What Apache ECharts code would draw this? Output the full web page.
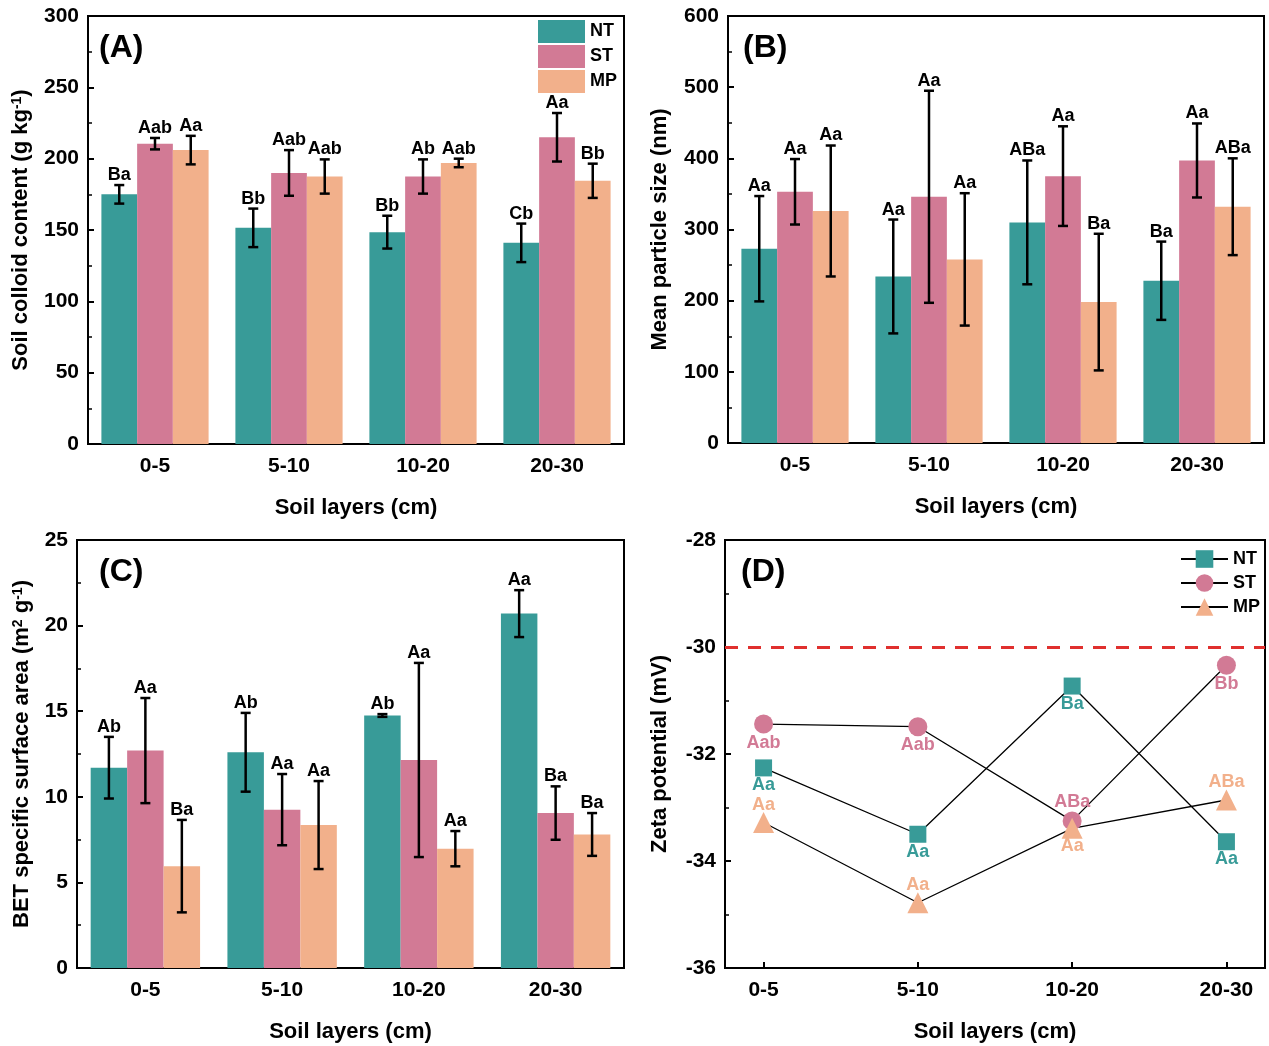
<!DOCTYPE html>
<html>
<head>
<meta charset="utf-8">
<script src="https://cdn.jsdelivr.net/npm/echarts@6/dist/echarts.min.js"></script>
<style>
  html, body { margin: 0; padding: 0; background: #fff; }
  #main { width: 1269px; height: 1046px; }
</style>
</head>
<body>
<div id="main"></div>
<script>
// categories
var layers = ['0-5', '5-10', '10-20', '20-30'];

// (A) soil colloid content, g/kg
var colloidNT = [175, 151.5, 148.5, 141];
var colloidNTsd = [6.5, 13.5, 11.5, 13.5];
var colloidST = [210.5, 190, 187.5, 215];
var colloidSTsd = [4, 16, 12, 17];
var colloidMP = [206, 187.5, 197, 184.5];
var colloidMPsd = [10, 12, 3, 12];
var colloidNTsig = ['Ba', 'Bb', 'Bb', 'Cb'];
var colloidSTsig = ['Aab', 'Aab', 'Ab', 'Aa'];
var colloidMPsig = ['Aa', 'Aab', 'Aab', 'Bb'];

// (B) mean particle size, nm
var sizeNT = [273, 234, 310, 228];
var sizeNTsd = [74, 80, 87, 55];
var sizeST = [353, 346, 375, 397];
var sizeSTsd = [46, 149, 70, 52];
var sizeMP = [326, 258, 198, 332];
var sizeMPsd = [92, 93, 96, 68];
var sizeNTsig = ['Aa', 'Aa', 'ABa', 'Ba'];
var sizeSTsig = ['Aa', 'Aa', 'Aa', 'Aa'];
var sizeMPsig = ['Aa', 'Aa', 'Ba', 'ABa'];

// (C) BET specific surface area, m2/g
var betNT = [11.7, 12.6, 14.75, 20.7];
var betNTsd = [1.8, 2.3, 0.08, 1.37];
var betST = [12.7, 9.25, 12.15, 9.05];
var betSTsd = [3.07, 2.08, 5.67, 1.56];
var betMP = [5.95, 8.35, 6.97, 7.8];
var betMPsd = [2.7, 2.57, 1.03, 1.25];
var betNTsig = ['Ab', 'Ab', 'Ab', 'Aa'];
var betSTsig = ['Aa', 'Aa', 'Aa', 'Ba'];
var betMPsig = ['Ba', 'Aa', 'Aa', 'Ba'];

// (D) zeta potential, mV
var zetaNT = [-32.26, -33.5, -30.73, -33.64];
var zetaST = [-31.44, -31.49, -33.25, -30.34];
var zetaMP = [-33.28, -34.78, -33.39, -32.86];
var zetaNTsig = ['Aa', 'Aa', 'Ba', 'Aa'];
var zetaSTsig = ['Aab', 'Aab', 'ABa', 'Bb'];
var zetaMPsig = ['Aa', 'Aa', 'Aa', 'ABa'];
var zetaRef = -30;

// where the letters sit in (D)
var posNT = ['bottom', 'bottom', 'bottom', 'bottom'];
var posST = ['bottom', 'bottom', 'top', 'bottom'];
var posMP = ['top', 'top', 'bottom', 'top'];

var FONT = '"Liberation Sans", Arial, sans-serif';
var colors = ['#389b98', '#d27a95', '#f2b08b'];

var myChart = echarts.init(document.getElementById('main'));

function xCat(gi) {
    return {
        type: 'category', gridIndex: gi, data: layers,
        axisLine: { lineStyle: { color: '#000', width: 2 } },
        axisTick: { inside: true, alignWithLabel: true, length: 6, lineStyle: { color: '#000', width: 2 } },
        axisLabel: { fontSize: 21, fontWeight: 'bold', color: '#000', margin: 12, fontFamily: FONT },
        name: 'Soil layers (cm)', nameLocation: 'middle', nameGap: 53,
        nameTextStyle: { fontSize: 22, fontWeight: 'bold', color: '#000', fontFamily: FONT }
    };
}

function yVal(gi, min, max, interval, name, gap) {
    return {
        type: 'value', gridIndex: gi, min: min, max: max, interval: interval,
        splitLine: { show: false },
        axisLine: { show: true, onZero: false, lineStyle: { color: '#000', width: 2 } },
        axisTick: { show: true, inside: true, length: 6, lineStyle: { color: '#000', width: 2 } },
        minorTick: { show: true, splitNumber: 2, length: 4, lineStyle: { color: '#000', width: 1.5 } },
        axisLabel: { fontSize: 21, fontWeight: 'bold', color: '#000', margin: 9, fontFamily: FONT },
        name: name, nameLocation: 'middle', nameGap: gap,
        nameTextStyle: {
            fontSize: 22, fontWeight: 'bold', color: '#000', fontFamily: FONT,
            rich: { sup: { fontSize: 14, fontWeight: 'bold', verticalAlign: 'top', fontFamily: FONT, padding: [0, 0, 8, 0] } }
        }
    };
}

function barSeries(gi, k, name, vals) {
    return {
        type: 'bar', name: name, xAxisIndex: gi, yAxisIndex: gi,
        data: vals, barGap: '0%', barCategoryGap: '20%',
        itemStyle: { color: colors[k] }
    };
}

// error bars + significance letters for bar k of each group
function errSeries(gi, k, vals, sds, sig) {
    return {
        type: 'custom', xAxisIndex: gi, yAxisIndex: gi, z: 5,
        data: vals.map(function (v, i) { return [i, v, sds[i]]; }),
        renderItem: function (params, api) {
            var i = api.value(0), m = api.value(1), s = api.value(2);
            var band = api.size([1, 0])[0];
            var bw = band * 0.8 / 3;
            var x = api.coord([i, m])[0] + (k - 1) * bw;
            var yt = api.coord([i, m + s])[1];
            var yb = api.coord([i, m - s])[1];
            var cap = 5;
            var ls = { stroke: '#000', lineWidth: 2.5 };
            return {
                type: 'group',
                children: [
                    { type: 'line', shape: { x1: x, y1: yt, x2: x, y2: yb }, style: ls },
                    { type: 'line', shape: { x1: x - cap, y1: yt, x2: x + cap, y2: yt }, style: ls },
                    { type: 'line', shape: { x1: x - cap, y1: yb, x2: x + cap, y2: yb }, style: ls },
                    {
                        type: 'text', x: x, y: yt - 1,
                        style: {
                            text: sig[params.dataIndex], textAlign: 'center', textVerticalAlign: 'bottom',
                            font: 'bold 18px ' + FONT, fill: '#000'
                        }
                    }
                ]
            };
        }
    };
}

function zetaSeries(k, name, vals, sig, pos, symbol, size, dist) {
    return {
        type: 'line', name: name, xAxisIndex: 3, yAxisIndex: 3,
        symbol: symbol, symbolSize: size,
        lineStyle: { color: '#000', width: 1.3 },
        itemStyle: { color: colors[k] },
        z: 3,
        data: vals.map(function (v, i) {
            return {
                value: [i, v],
                label: { show: true, position: pos[i], distance: dist, formatter: sig[i] }
            };
        }),
        label: { fontSize: 18, fontWeight: 'bold', color: colors[k], fontFamily: FONT }
    };
}

var panels = [
    [colloidNT, colloidNTsd, colloidNTsig, colloidST, colloidSTsd, colloidSTsig, colloidMP, colloidMPsd, colloidMPsig],
    [sizeNT, sizeNTsd, sizeNTsig, sizeST, sizeSTsd, sizeSTsig, sizeMP, sizeMPsd, sizeMPsig],
    [betNT, betNTsd, betNTsig, betST, betSTsd, betSTsig, betMP, betMPsd, betMPsig]
];
var names = ['NT', 'ST', 'MP'];

var series = [];
panels.forEach(function (p, gi) {
    for (var k = 0; k < 3; k++) {
        series.push(barSeries(gi, k, names[k], p[k * 3]));
    }
    for (var k2 = 0; k2 < 3; k2++) {
        series.push(errSeries(gi, k2, p[k2 * 3], p[k2 * 3 + 1], p[k2 * 3 + 2]));
    }
});

var ntZ = zetaSeries(0, 'NT-zeta', zetaNT, zetaNTsig, posNT, 'rect', 17, 0);
ntZ.markLine = {
    silent: true, symbol: 'none', label: { show: false },
    lineStyle: { color: '#e0302e', width: 3, type: [13, 10] },
    data: [{ yAxis: zetaRef }]
};
series.push(ntZ);
series.push(zetaSeries(1, 'ST-zeta', zetaST, zetaSTsig, posST, 'circle', 19, 0));
series.push(zetaSeries(2, 'MP-zeta', zetaMP, zetaMPsig, posMP, 'triangle', 21, -2));

var gridStyle = { show: true, borderColor: '#000', borderWidth: 2, backgroundColor: 'transparent' };
var titleStyle = { fontSize: 32, fontWeight: 'bold', color: '#000', fontFamily: FONT };

myChart.setOption({
    animation: false,
    textStyle: { fontFamily: FONT },
    title: [
        { text: '(A)', left: 99, top: 32, textStyle: titleStyle, padding: 0 },
        { text: '(B)', left: 743, top: 32, textStyle: titleStyle, padding: 0 },
        { text: '(C)', left: 99, top: 556, textStyle: titleStyle, padding: 0 },
        { text: '(D)', left: 741, top: 556, textStyle: titleStyle, padding: 0 }
    ],
    legend: [
        {
            data: ['NT', 'ST', 'MP'], orient: 'vertical', left: 538, top: 20, padding: 0,
            icon: 'rect', itemWidth: 47, itemHeight: 23, itemGap: 2,
            textStyle: { fontSize: 18, fontWeight: 'bold', color: '#000', fontFamily: FONT }
        },
        {
            data: ['NT-zeta', 'ST-zeta', 'MP-zeta'], orient: 'vertical', left: 1180, top: 550, padding: 0,
            itemWidth: 47, itemHeight: 22, itemGap: 6,
            formatter: function (n) { return n.split('-')[0]; },
            textStyle: { fontSize: 18, fontWeight: 'bold', color: '#000', fontFamily: FONT }
        }
    ],
    grid: [
        Object.assign({ left: 88, top: 16, width: 536, height: 428 }, gridStyle),
        Object.assign({ left: 728, top: 16, width: 536, height: 427 }, gridStyle),
        Object.assign({ left: 77, top: 540, width: 547, height: 428 }, gridStyle),
        Object.assign({ left: 725, top: 540, width: 540, height: 428 }, gridStyle)
    ],
    xAxis: [
        xCat(0), xCat(1), xCat(2),
        {
            type: 'value', gridIndex: 3, min: -0.25, max: 3.25,
            splitLine: { show: false },
            axisLine: { onZero: false, lineStyle: { color: '#000', width: 2 } },
            axisTick: { show: true, inside: true, length: 6, lineStyle: { color: '#000', width: 2 }, customValues: [0, 1, 2, 3] },
            axisLabel: {
                fontSize: 21, fontWeight: 'bold', color: '#000', margin: 12, fontFamily: FONT,
                customValues: [0, 1, 2, 3],
                formatter: function (v) { return layers[Math.round(v)]; }
            },
            name: 'Soil layers (cm)', nameLocation: 'middle', nameGap: 53,
            nameTextStyle: { fontSize: 22, fontWeight: 'bold', color: '#000', fontFamily: FONT }
        }
    ],
    yAxis: [
        yVal(0, 0, 300, 50, 'Soil colloid content (g kg{sup|-1})', 56),
        yVal(1, 0, 600, 100, 'Mean particle size (nm)', 57),
        yVal(2, 0, 25, 5, 'BET specific surface area (m{sup|2} g{sup|-1})', 44),
        yVal(3, -36, -28, 2, 'Zeta potential (mV)', 54)
    ],
    series: series
});
</script>
</body>
</html>
